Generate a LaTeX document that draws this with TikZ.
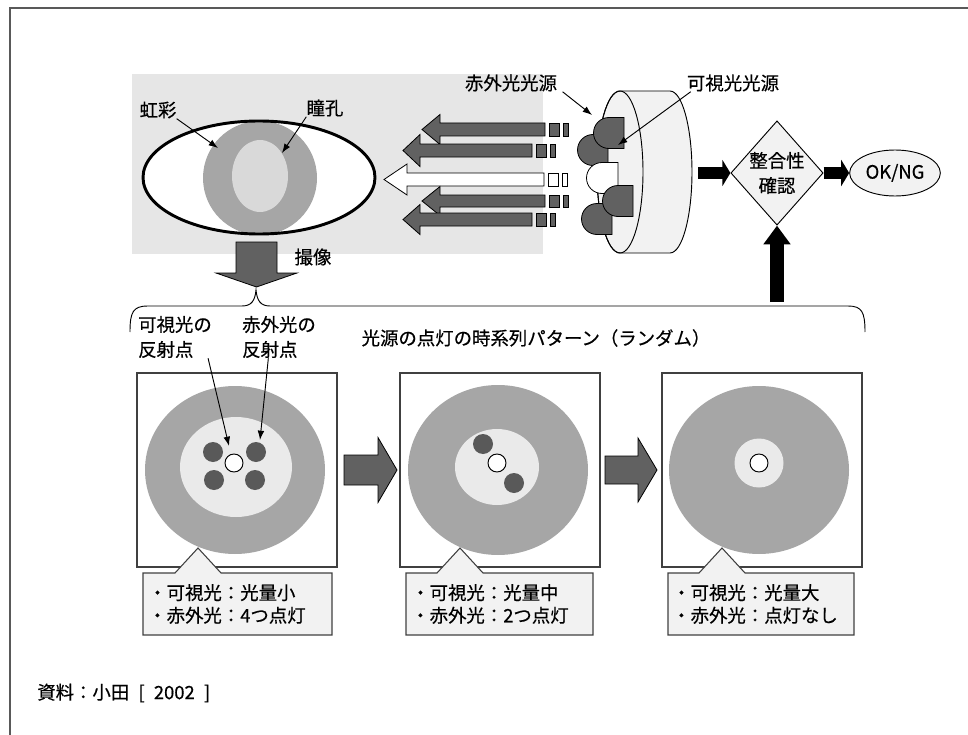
\documentclass[tikz,border=0pt]{standalone}
\usepackage{fontspec}
\setmainfont{Noto Sans CJK JP}[FakeBold=0.5]
\usetikzlibrary{arrows.meta}
\usetikzlibrary{shapes.geometric}
\usetikzlibrary{calc}

\definecolor{bggray}{HTML}{E6E6E6}
\definecolor{irisgray}{HTML}{A6A6A6}
\definecolor{pupilgray}{HTML}{D9D9D9}
\definecolor{ringgray}{HTML}{EAEAEA}
\definecolor{dotgray}{HTML}{595959}
\definecolor{arrowgray}{HTML}{616161}
\definecolor{boxfill}{HTML}{F2F2F2}

\newcommand{\hblock}[7]{\draw [blockarrow,fill=#1] (#2,#5-#6) -- (#3,#5-#6) -- (#3,#5-#7) -- (#4,#5) -- (#3,#5+#7) -- (#3,#5+#6) -- (#2,#5+#6) -- cycle;}
\newcommand{\vblock}[7]{\draw [blockarrow,fill=#1] (#5-#6,#2) -- (#5-#6,#3) -- (#5-#7,#3) -- (#5,#4) -- (#5+#7,#3) -- (#5+#6,#3) -- (#5+#6,#2) -- cycle;}
\newcommand{\led}[4]{\draw [blockarrow,fill=#1] (#2,#3-15.5) -- (#4,#3-15.5) -- (#4,#3+15.5) -- (#2,#3+15.5) arc [start angle=90,end angle=270,radius=15.5] -- cycle;}
\newcommand{\callout}[3]{\draw [callout] (#1,573) -- (#3-23,573) -- (#3,548) -- (#3+23,573) -- (#2,573) -- (#2,635) -- (#1,635) -- cycle;}

\begin{document}
\begin{tikzpicture}[x=0.75pt,y=-0.75pt,>={Latex[length=7pt,width=5pt]},
  txt/.style={font=\fontsize{13.8}{18.75}\selectfont,align=center,inner sep=0pt},
  note/.style={font=\fontsize{13.8}{17}\selectfont,align=left,anchor=west,inner sep=0pt},
  blockarrow/.style={draw=black,line width=0.6pt},
  blk/.style={line width=9pt,-{Triangle[width=19.5pt,length=6pt]}},
  callout/.style={draw=black!75,fill=boxfill,line width=0.8pt},
  panel/.style={draw=black!75,line width=0.8pt},
  pointer/.style={->,line width=0.7pt}]
\useasboundingbox (0,0) rectangle (968,735);
\draw [black!65,line width=1.5pt] (10,735) -- (10,8) -- (968,8);

\fill [bggray] (132,74) rectangle (543,254);
\fill [white] (259,177.5) ellipse [x radius=116,y radius=56.5];
\begin{scope}
\clip (259,177.5) ellipse [x radius=116,y radius=56.5];
\fill [irisgray] (260,178) circle [radius=57];
\end{scope}
\fill [pupilgray] (260,176) ellipse [x radius=28,y radius=36];
\draw [line width=2.2pt] (259,177.5) ellipse [x radius=116,y radius=56.5];

\draw node [txt] (kousai) at (158,110) {虹彩};
\draw node [txt] (doukou) at (325,108) {瞳孔};
\coordinate (kousaitip) at (218,148);
\coordinate (doukoutip) at (282,153);
\draw [pointer] (kousai.south east) -- (kousaitip);
\draw [pointer] (doukou.south west) -- (doukoutip);

\vblock{arrowgray}{242}{273}{287}{256.5}{20.5}{40.5}
\draw node [txt] (satsuzou) at (313,257) {撮像};

\foreach \tl/\bs/\tp/\yy/\sh/\hh/\col in {545/440/422/129.5/6.5/15/arrowgray,532/420/403/150.5/6.5/16/arrowgray,544/407/384/179.5/6.5/15.5/white,545/440/422/201/6/14.5/arrowgray,532/420/403/219.5/6.5/15/arrowgray}
{
\hblock{\col}{\tl}{\bs}{\tp}{\yy}{\sh}{\hh}
\draw [blockarrow,fill=\col] (\tl+4,\yy-\sh) rectangle (\tl+14,\yy+\sh);
\draw [blockarrow,fill=\col] (\tl+18,\yy-\sh) rectangle (\tl+23,\yy+\sh);
}

\draw [fill=boxfill,line width=0.7pt] (620,91) -- (670,91) arc [start angle=-90,end angle=90,x radius=22,y radius=81] -- (620,253) arc [start angle=90,end angle=270,x radius=23,y radius=81] -- cycle;
\draw [line width=0.7pt] (620,172) ellipse [x radius=23,y radius=81];
\led{arrowgray}{593}{150}{608}
\led{arrowgray}{609}{133}{624}
\led{white}{602}{178}{618}
\led{arrowgray}{597}{219}{612}
\led{arrowgray}{618}{201}{633}

\draw node [txt] (irsrc) at (511,83) {赤外光光源};
\draw node [txt] (vissrc) at (733,83) {可視光光源};
\coordinate (irsrctip) at (592,115);
\coordinate (vissrctip) at (618,145);
\draw [pointer] ([xshift=4pt]irsrc.south east) -- (irsrctip);
\draw [pointer] ([xshift=3pt]vissrc.south west) -- (vissrctip);

\draw node [diamond,draw,fill=boxfill,line width=0.7pt,aspect=0.885,minimum width=69pt,minimum height=78pt,txt] (check) at (777,173) {整合性\\確認};
\draw node [ellipse,draw,fill=boxfill,line width=0.7pt,minimum width=68pt,minimum height=34.5pt,txt] (okng) at (895,173) {OK/NG};
\coordinate (cylout) at (698,173);
\coordinate (bracepeak) at (777,302);
\draw [blk] (cylout) -- (check.west);
\draw [blk] (check.east) -- (okng.west);
\draw [blk,line width=11pt,-{Triangle[width=19.5pt,length=14pt]}] (bracepeak) -- (check.south);

\draw [line width=0.7pt] (130,332) .. controls (130,312) and (133,306) .. (148,306) -- (242,306) .. controls (252,306) and (255,300) .. (256,290) .. controls (257,300) and (260,306) .. (270,306) -- (848,306) .. controls (862,306) and (865,312) .. (865,332);

\draw node [txt,align=left] (refvis) at (175,337) {可視光の\\反射点};
\draw node [txt,align=left] (refir) at (279,337) {赤外光の\\反射点};
\draw node [txt] (pattern) at (536,338) {光源の点灯の時系列パターン（ランダム）};

\foreach \px in {137,400,662} \draw [panel] (\px,373) rectangle ++(200,194);

\fill [irisgray] (235,470) ellipse [x radius=90,y radius=84];
\fill [ringgray] (236,467) ellipse [x radius=56,y radius=50];
\foreach \dx/\dy in {213/452,256/452,214/480,255/480} \fill [dotgray] (\dx,\dy) circle [radius=10];
\draw [fill=white,line width=0.7pt] (234,463) circle [radius=9];

\fill [irisgray] (498,470) ellipse [x radius=90,y radius=85];
\fill [ringgray] (497,467) ellipse [x radius=42,y radius=38];
\foreach \dx/\dy in {483/444,514/483} \fill [dotgray] (\dx,\dy) circle [radius=10];
\draw [fill=white,line width=0.7pt] (497,463) circle [radius=9];

\fill [irisgray] (759,470) ellipse [x radius=90,y radius=84];
\fill [ringgray] (759,463) circle [radius=24.5];
\draw [fill=white,line width=0.7pt] (759,463) circle [radius=9];

\coordinate (visdot) at (229,446);
\coordinate (irdot) at (260,440);
\draw [pointer] ([xshift=-3pt]refvis.south east) -- (visdot);
\draw [pointer] ([xshift=-8pt]refir.south) -- (irdot);

\hblock{arrowgray}{344}{378}{397}{470}{15}{32.5}
\hblock{arrowgray}{605}{638}{657}{470}{14}{32}

\callout{143}{332}{198}
\callout{406}{593}{460}
\callout{668}{854}{722}
\draw node [note] (note1) at (148,604) {・可視光：光量小\\・赤外光：4つ点灯};
\draw node [note] (note2) at (411,604) {・可視光：光量中\\・赤外光：2つ点灯};
\draw node [note] (note3) at (672,604) {・可視光：光量大\\・赤外光：点灯なし};

\draw node [txt,anchor=west] (source) at (37,693) {資料：小田\enspace[\enspace2002\enspace]};
\end{tikzpicture}
\end{document}
